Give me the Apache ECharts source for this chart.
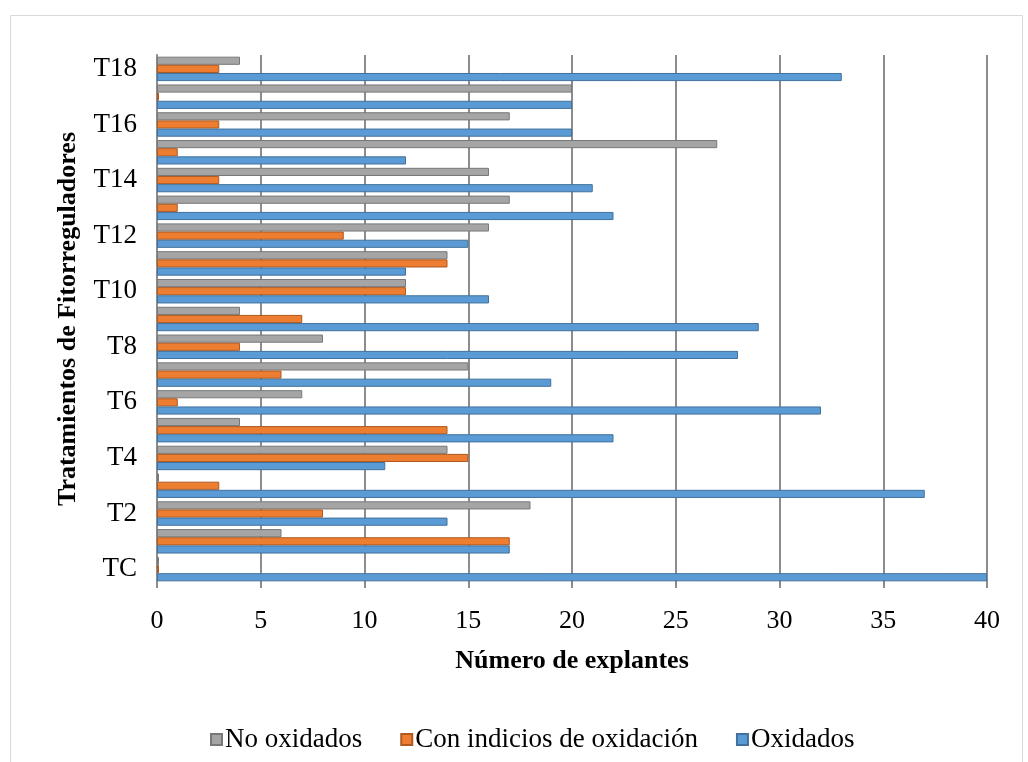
<!DOCTYPE html>
<html>
<head>
<meta charset="utf-8">
<script src="https://cdn.jsdelivr.net/npm/echarts@6/dist/echarts.min.js"></script>
<style>html,body{margin:0;padding:0;background:#fff}#c{width:1028px;height:762px}</style>
</head>
<body>
<div id="c"></div>
<script>
var categories = ['TC','T1','T2','T3','T4','T5','T6','T7','T8','T9','T10','T11','T12','T13','T14','T15','T16','T17','T18'];
var noOxidados = [0, 6, 18, 0, 14, 4, 7, 15, 8, 4, 12, 14, 16, 17, 16, 27, 17, 20, 4];
var conIndicios = [0, 17, 8, 3, 15, 14, 1, 6, 4, 7, 12, 14, 9, 1, 3, 1, 3, 0, 3];
var oxidados = [40, 17, 14, 37, 11, 22, 32, 19, 28, 29, 16, 12, 15, 22, 21, 12, 20, 20, 33];
var xTicks = [0, 5, 10, 15, 20, 25, 30, 35, 40];

var FONT = '"Liberation Serif", "Times New Roman", serif';
var chart = echarts.init(document.getElementById('c'), null, {renderer: 'canvas'});
function bar(name, data, color, edge) {
  return {
    name: name, type: 'bar', data: data,
    barGap: '0%', barCategoryGap: '12%', barMinHeight: 2,
    itemStyle: {color: color, borderColor: edge, borderWidth: 1},
    emphasis: {disabled: true}
  };
}
chart.setOption({
  animation: false,
  textStyle: {fontFamily: FONT},
  graphic: [{
    type: 'rect', left: 8, top: 13, silent: true,
    shape: {width: 1012, height: 760},
    style: {fill: 'none', stroke: '#d9d9d9', lineWidth: 1}
  }],
  grid: {left: 157, right: 41, top: 55, bottom: 179},
  legend: {
    left: 205, top: 721,
    itemWidth: 11, itemHeight: 11, itemGap: 38,
    icon: 'rect',
    data: ['No oxidados', 'Con indicios de oxidación', 'Oxidados'],
    textStyle: {fontFamily: FONT, fontSize: 27, color: '#000', padding: [0, 0, 0, -2]}
  },
  xAxis: {
    type: 'value', min: 0, max: 40, interval: 5,
    name: 'Número de explantes', nameLocation: 'middle', nameGap: 65,
    nameTextStyle: {fontFamily: FONT, fontSize: 26, fontWeight: 'bold', color: '#000'},
    axisLine: {show: false},
    axisTick: {show: true, length: 5, lineStyle: {color: '#8c8c8c', width: 2}},
    axisLabel: {fontFamily: FONT, fontSize: 26, color: '#000', margin: 25,
      formatter: function (v) { return xTicks.indexOf(v) >= 0 ? String(v) : ''; }},
    splitLine: {show: true, lineStyle: {color: '#8c8c8c', width: 2}}
  },
  yAxis: {
    type: 'category', data: categories,
    name: 'Tratamientos de Fitorreguladores', nameLocation: 'middle', nameGap: 76,
    nameTextStyle: {fontFamily: FONT, fontSize: 26, fontWeight: 'bold', color: '#000'},
    axisLine: {show: true, lineStyle: {color: '#8c8c8c', width: 2}},
    axisTick: {show: false},
    axisLabel: {fontFamily: FONT, fontSize: 27, color: '#000', margin: 20, interval: 1}
  },
  series: [
    bar('No oxidados', noOxidados, '#A5A5A5', '#787878'),
    bar('Con indicios de oxidación', conIndicios, '#ED7D31', '#AE5A21'),
    bar('Oxidados', oxidados, '#5B9BD5', '#41719C')
  ]
});
</script>
</body>
</html>
